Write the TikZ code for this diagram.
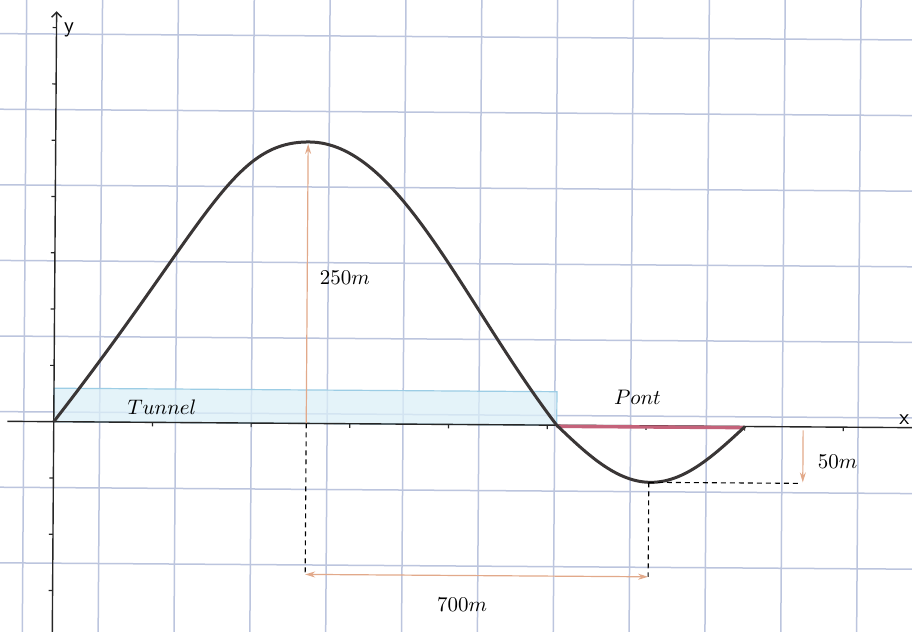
\RequirePackage{fix-cm}
\documentclass[tikz,border=0pt]{standalone}
\usetikzlibrary{arrows.meta}
\definecolor{gridc}{HTML}{BCC5DE}
\definecolor{curvec}{HTML}{3A3636}
\definecolor{dimc}{HTML}{E2A98A}
\definecolor{pontc}{HTML}{C4627A}
\definecolor{tunfill}{HTML}{DCEFF8}
\definecolor{tunedge}{HTML}{9CCDE5}
\tikzset{
 gridline/.style={gridc, line width=0.75pt},
 axis/.style={black!85, line width=0.7pt},
 tick/.style={black!85, line width=0.6pt},
 curve/.style={curvec, line width=1.5pt},
 dimline/.style={dimc, line width=0.6pt},
 dimarrow/.style={dimline, -{Stealth[length=5pt,width=3pt]}},
 dimboth/.style={dimline, {Stealth[length=5pt,width=3pt]}-{Stealth[length=5pt,width=3pt]}},
 guide/.style={black, line width=0.55pt, dash pattern=on 2.5pt off 2pt},
 lbl/.style={font=\fontsize{10.5}{12}\selectfont, inner sep=0pt},
 axlbl/.style={font=\sffamily\fontsize{11}{12}\selectfont, inner sep=0pt},
}
\begin{document}
\begin{tikzpicture}[x=0.5pt,y=-0.5pt]
\useasboundingbox (0,0) rectangle (912,632);
\fill[white] (0,0) rectangle (912,632);
\clip (0,0) rectangle (912,632);
\begin{scope}[rotate around={-0.4:(456,316)}]
 % grid
 \foreach \k in {0,...,11} \draw[gridline] ({24.5+75.85*\k},-20) -- ({24.5+75.85*\k},660);
 \foreach \j in {0,...,7} \draw[gridline] (-20,{36.8+75.6*\j}) -- (940,{36.8+75.6*\j});
 % tunnel
 \fill[tunfill, fill opacity=0.75] (54.5,391) rectangle (557.5,424.5);
 \draw[tunedge, line width=0.6pt] (54.5,391) rectangle (557.5,424.5);
 % coordinates
 \coordinate (O) at (54.5,424.5);
 \coordinate (ytop) at (54.5,14);
 \coordinate (ybot) at (54.5,660);
 \coordinate (xleft) at (8,424.5);
 \coordinate (xright) at (940,424.5);
 \coordinate (cross) at (557.5,424.5);
 \coordinate (endp) at (745.8,424.5);
 \coordinate (top) at (308,143);
 \coordinate (peak) at (307,145);
 \coordinate (foot) at (307,424.5);
 \coordinate (footlow) at (307,575.5);
 \coordinate (minp) at (650,481);
 \coordinate (minlow) at (650,575.5);
 \coordinate (minright) at (801,481);
 \coordinate (dtop) at (804,428);
 \coordinate (dbot) at (804,480);
 % axes
 \draw[axis, -{Straight Barb[length=2.5pt,width=5pt]}] (ybot) -- (ytop);
 \draw[axis] (xleft) -- (xright);
 \foreach \k in {-3,-2,-1,1,2,3,4,5,6,7} \draw[tick] (50.5,{424.5-56.3*\k}) -- (54.5,{424.5-56.3*\k});
 \foreach \k in {1,...,8} \draw[tick] ({54.5+98.7*\k},424.5) -- ({54.5+98.7*\k},428.5);
 % pont
 \draw[pontc, line width=1.7pt] ([yshift=-0.6pt]cross) -- ([yshift=-0.6pt]endp);
 % curve
 \draw[curve] (O) .. controls (208,224) and (230,143) .. (top)
   .. controls (397,143) and (462,301) .. (cross);
 \draw[curve] plot[domain=0:180, samples=60, variable=\t] ({557.5+1.04611*\t},{424.5+56.5*sin(\t)});
 % dimensions
 \draw[dimarrow] (foot) -- (peak);
 \draw[guide] (foot) -- (footlow);
 \draw[guide] (minp) -- (minlow);
 \draw[guide] (minp) -- (minright);
 \draw[dimboth] (footlow) -- (minlow);
 \draw[dimarrow] (dtop) -- (dbot);
 % labels
 \node[lbl] (l250) at (344.7,278.8) {$250m$};
 \node[lbl] (l700) at (464,605) {$700m$};
 \node[lbl] (l50) at (838.5,459.3) {$50m$};
 \node[lbl] (ltun) at (162.6,409) {$Tunnel$};
 \node[lbl] (lpont) at (638,396) {$Pont$};
 \node[axlbl] (ly) at (67,33) {y};
 \node[axlbl] (lx) at (905,416) {x};
\end{scope}
\end{tikzpicture}
\end{document}
